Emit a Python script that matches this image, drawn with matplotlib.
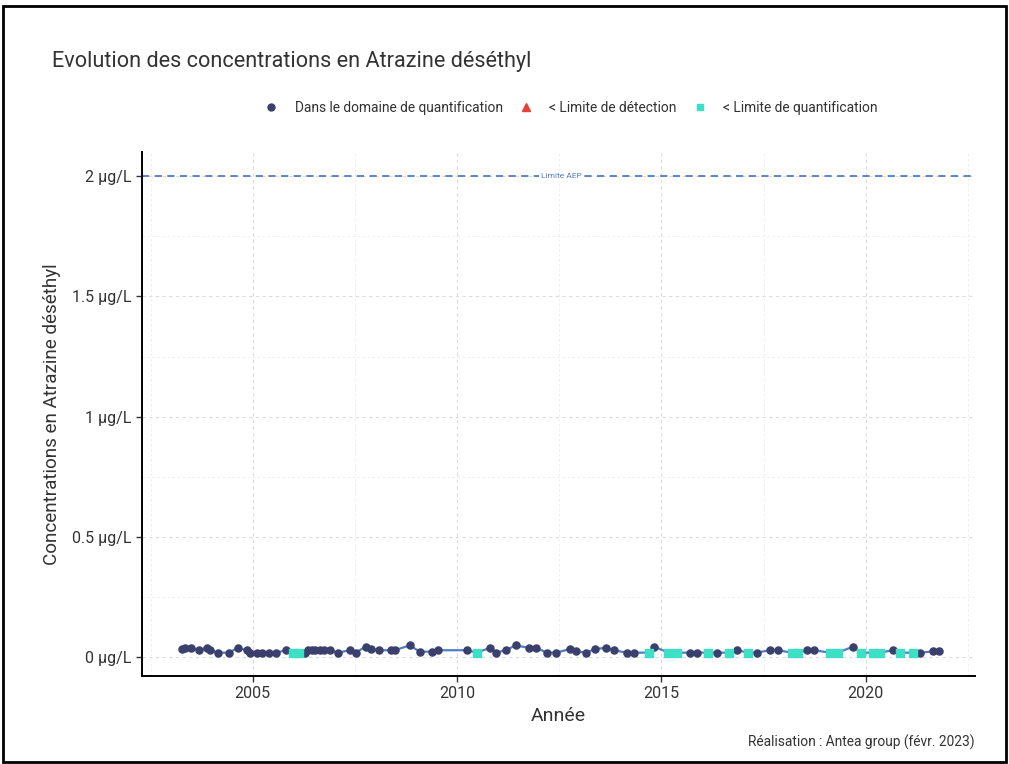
import matplotlib.pyplot as plt
from matplotlib.lines import Line2D
from matplotlib.patches import Rectangle
from matplotlib.ticker import MultipleLocator

plt.rcParams['font.family'] = ['Liberation Sans Narrow', 'Roboto', 'DejaVu Sans']

# Data (decimal years, µg/L)
quant_years = [2003.26, 2003.34, 2003.50, 2003.69, 2003.87, 2003.95, 2004.15, 2004.42,
               2004.63, 2004.85, 2004.93, 2005.11, 2005.23, 2005.39, 2005.56, 2005.82,
               2006.29, 2006.35, 2006.44, 2006.52, 2006.64, 2006.74, 2006.88, 2007.09,
               2007.37, 2007.52, 2007.76, 2007.89, 2008.09, 2008.38, 2008.47, 2008.84,
               2009.09, 2009.39, 2009.53, 2010.23, 2010.80, 2010.95, 2011.19, 2011.43,
               2011.75, 2011.94, 2012.19, 2012.43, 2012.76, 2012.92, 2013.16, 2013.37,
               2013.65, 2013.84, 2014.15, 2014.32, 2014.82, 2015.69, 2015.86, 2016.35,
               2016.84, 2017.33, 2017.65, 2017.85, 2018.57, 2018.72, 2019.69, 2020.66,
               2021.32, 2021.64, 2021.78]
quant_values = [0.035, 0.04, 0.04, 0.03, 0.04, 0.03, 0.02, 0.02,
                0.04, 0.03, 0.02, 0.02, 0.02, 0.02, 0.02, 0.03,
                0.02, 0.03, 0.03, 0.03, 0.03, 0.03, 0.03, 0.02,
                0.03, 0.02, 0.045, 0.035, 0.03, 0.03, 0.03, 0.05,
                0.024, 0.024, 0.03, 0.03, 0.04, 0.02, 0.03, 0.05,
                0.04, 0.04, 0.02, 0.02, 0.035, 0.025, 0.02, 0.035,
                0.04, 0.03, 0.02, 0.02, 0.045, 0.02, 0.02, 0.02,
                0.03, 0.02, 0.03, 0.03, 0.03, 0.03, 0.045, 0.03,
                0.02, 0.025, 0.025]

lq_years = [2005.98, 2006.13, 2010.49, 2014.70, 2015.17, 2015.37, 2016.13, 2016.65,
            2017.12, 2018.19, 2018.33, 2019.13, 2019.31, 2019.88, 2020.17, 2020.34,
            2020.83, 2021.15]
lq_values = [0.02] * len(lq_years)

ld_years = []
ld_values = []

aep_limit = 2.0

col_quant = '#3b3f6b'
col_lq = '#3ee0c5'
col_ld = '#e8413a'
col_line = '#4f7dc4'

fig = plt.figure(figsize=(10.09, 7.64), dpi=100)
ax = fig.add_axes([0.1407, 0.1152, 0.8256, 0.6858])

# line through all samples in time order
all_pts = sorted(zip(quant_years + lq_years + ld_years, quant_values + lq_values + ld_values))
ax.plot([p[0] for p in all_pts], [p[1] for p in all_pts], color=col_line, linewidth=1.6, zorder=3)
ax.scatter(quant_years, quant_values, s=26, color=col_quant, zorder=4)
ax.scatter(lq_years, lq_values, s=30, marker='s', color=col_lq, zorder=4)

# AEP limit
ax.axhline(aep_limit, color=col_line, linestyle=(0, (4, 3)), linewidth=1.3, zorder=2)
ax.text(2012.55, aep_limit, 'Limite AEP', fontsize=6, color=col_line, ha='center', va='center',
        bbox=dict(facecolor='white', edgecolor='none', pad=1.5), zorder=3)

ax.set_xlim(2002.29, 2022.67)
ax.set_ylim(-0.077, 2.10)
ax.xaxis.set_major_locator(MultipleLocator(5))
ax.xaxis.set_minor_locator(MultipleLocator(2.5))
ax.yaxis.set_major_locator(MultipleLocator(0.5))
ax.yaxis.set_minor_locator(MultipleLocator(0.25))
ax.set_yticks([0, 0.5, 1, 1.5, 2])
ax.set_yticklabels(['0 µg/L', '0.5 µg/L', '1 µg/L', '1.5 µg/L', '2 µg/L'])

ax.grid(True, which='major', color='#dcdcdc', linestyle=(0, (3, 3)), linewidth=0.8, zorder=0)
ax.grid(True, which='minor', color='#ececec', linestyle=(0, (3, 3)), linewidth=0.6, zorder=0)
ax.set_axisbelow(True)

for side in ['top', 'right']:
    ax.spines[side].set_visible(False)
for side in ['left', 'bottom']:
    ax.spines[side].set_color('black')
    ax.spines[side].set_linewidth(1.4)
ax.tick_params(which='major', length=4, width=1, colors='#333333', labelsize=11.5)
ax.tick_params(which='minor', length=0)

ax.set_xlabel('Année', fontsize=14, color='#333333', labelpad=4)
ax.set_ylabel('Concentrations en Atrazine déséthyl', fontsize=13.6, color='#333333', labelpad=8)

fig.text(0.0515, 0.919, 'Evolution des concentrations en Atrazine déséthyl', fontsize=15.6,
         color='#333333', ha='left', va='center')
fig.text(0.966, 0.029, 'Réalisation : Antea group (févr. 2023)', fontsize=9.9,
         color='#333333', ha='right', va='center')

handles = [
    Line2D([], [], marker='o', linestyle='none', color=col_quant, markersize=5),
    Line2D([], [], marker='^', linestyle='none', color=col_ld, markersize=6),
    Line2D([], [], marker='s', linestyle='none', color=col_lq, markersize=5),
]
labels = ['Dans le domaine de quantification', '< Limite de détection', '< Limite de quantification']
fig.legend(handles, labels, loc='center', bbox_to_anchor=(0.566, 0.859), ncol=3, frameon=False,
           fontsize=9.9, handlelength=1.0, handletextpad=1.2, columnspacing=1.2,
           labelcolor='#333333')

# frame around the figure
fig.patches.append(Rectangle((0.003, 0.003), 0.994, 0.989, transform=fig.transFigure,
                             fill=False, edgecolor='black', linewidth=2))

fig.savefig('out.png', dpi=100)
